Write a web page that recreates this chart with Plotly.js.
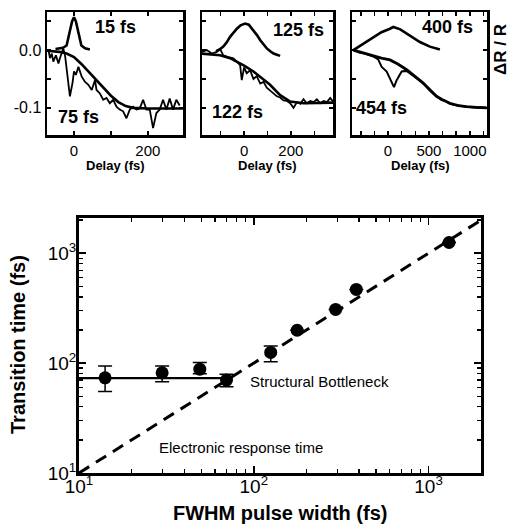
<!DOCTYPE html>
<html>
<head>
<meta charset="utf-8">
<script src="https://cdn.plot.ly/plotly-3.0.1.min.js"></script>
<style>html,body{margin:0;padding:0;background:#fff;}#chart{width:511px;height:525px;}</style>
</head>
<body>
<div id="chart"></div>
<script>
// ---------- Top panel 1 (15 fs pulse, 75 fs transition) ----------
const pulse1Delay = [-50, -40, -30, -20, -15, -10, -5, 0, 5, 10, 15, 20, 30, 43];
const pulse1Signal = [0.002, 0.003, 0.004, 0.008, 0.02, 0.036, 0.05, 0.057, 0.05, 0.034, 0.018, 0.008, 0.003, 0.001];
const data1Delay = [-69, -65, -60, -56, -49, -42, -38, -33, -29, -24, -20, -11, -4, 0, 5, 12, 21, 30, 39, 48, 57, 61, 70, 79, 88, 97, 106, 115, 124, 133, 142, 151, 160, 169, 178, 187, 196, 205, 214, 223, 232, 241, 250, 259, 268, 277, 286];
const data1Signal = [0, -0.014, -0.006, -0.02, -0.009, -0.023, -0.014, -0.003, 0.003, -0.01, -0.034, -0.08, -0.057, -0.037, -0.043, -0.029, -0.046, -0.055, -0.06, -0.069, -0.052, -0.069, -0.075, -0.086, -0.083, -0.092, -0.086, -0.098, -0.103, -0.106, -0.118, -0.103, -0.098, -0.103, -0.101, -0.086, -0.103, -0.103, -0.135, -0.109, -0.103, -0.086, -0.103, -0.084, -0.103, -0.086, -0.096];
const fit1Delay = [-73, -40, -20, 0, 20, 40, 60, 80, 100, 120, 140, 160, 200, 295];
const fit1Signal = [-0.001, -0.003, -0.006, -0.012, -0.024, -0.038, -0.052, -0.066, -0.079, -0.09, -0.097, -0.1, -0.101, -0.101];

// ---------- Top panel 2 (125 fs pulse, 122 fs transition) ----------
const pulse2Delay = [-120, -105, -89, -75, -60, -45, -31, -15, 4, 20, 40, 55, 69, 83, 97, 112, 126, 140, 154];
const pulse2Signal = [-0.002, 0.001, 0.006, 0.013, 0.023, 0.031, 0.037, 0.043, 0.046, 0.044, 0.034, 0.026, 0.017, 0.009, 0.003, -0.002, -0.006, -0.008, -0.01];
const data2Delay = [-181, -160, -138, -117, -103, -89, -67, -46, -31, -17, -10, 0, 11, 26, 40, 54, 69, 83, 97, 111, 126, 140, 154, 168, 183, 197, 211, 226, 240, 254, 268, 283, 297, 311, 325, 340, 354, 368, 382];
const data2Signal = [-0.003, 0, -0.006, -0.003, 0.002, -0.009, -0.012, -0.014, -0.02, -0.026, -0.052, -0.03, -0.04, -0.035, -0.05, -0.045, -0.058, -0.055, -0.065, -0.07, -0.075, -0.08, -0.082, -0.087, -0.088, -0.092, -0.1, -0.09, -0.093, -0.085, -0.092, -0.088, -0.09, -0.085, -0.092, -0.088, -0.09, -0.083, -0.09];
const fit2Delay = [-181, -140, -103, -60, -31, 0, 40, 75, 111, 154, 197, 254, 382];
const fit2Signal = [-0.006, -0.007, -0.009, -0.014, -0.02, -0.027, -0.037, -0.048, -0.06, -0.078, -0.089, -0.092, -0.091];

// ---------- Top panel 3 (400 fs pulse, 454 fs transition) ----------
const pulse3Delay = [-423, -300, -179, -80, 24, 65, 150, 228, 310, 390, 512, 634];
const pulse3Signal = [0, 0.011, 0.023, 0.031, 0.037, 0.04, 0.036, 0.029, 0.021, 0.014, 0.006, 0.001];
const data3Delay = [-423, -350, -280, -179, -120, -77, -16, 45, 73, 106, 167, 228, 300, 360, 431, 500, 593, 650, 700, 756, 820, 890, 959, 1030, 1100, 1150, 1203];
const data3Signal = [0, -0.004, -0.006, -0.011, -0.016, -0.029, -0.037, -0.055, -0.064, -0.052, -0.037, -0.036, -0.043, -0.05, -0.058, -0.066, -0.08, -0.086, -0.088, -0.093, -0.095, -0.097, -0.098, -0.099, -0.1, -0.099, -0.1];
const fit3Delay = [-423, -300, -179, -80, 24, 120, 228, 330, 431, 510, 593, 680, 756, 860, 959, 1080, 1203];
const fit3Signal = [0, -0.005, -0.011, -0.014, -0.017, -0.024, -0.034, -0.045, -0.057, -0.069, -0.08, -0.087, -0.092, -0.096, -0.098, -0.099, -0.1];

// ---------- Bottom panel ----------
const pulseWidth = [14.1, 29.9, 49.1, 69.8, 125, 177, 294, 386, 1310];
const transitionTime = [73.5, 81.6, 88, 70, 125, 199, 308, 468, 1250];
const errPlus = [20.5, 12.4, 13, 9, 18, null, null, null, null];
const errMinus = [18.5, 14, 8, 9, 22, null, null, null, null];
const electronicX = [10, 2000];
const electronicY = [10, 2000];
const bottleneckX = [10, 75];
const bottleneckY = [73, 73];
const logMajorVals = [10, 100, 1000];
const logMajorText = ['10<sup>1</sup>', '10<sup>2</sup>', '10<sup>3</sup>'];
const logMinorVals = [20, 30, 40, 50, 60, 70, 80, 90, 200, 300, 400, 500, 600, 700, 800, 900, 2000];

// ---------- Labels ----------
const pulseLabels = ['15 fs', '125 fs', '400 fs'];
const transLabels = ['75 fs', '122 fs', '454 fs'];

const W = 511, H = 525;
const fx = p => p / W;
const fy = p => 1 - p / H;
const FONT = 'Liberation Sans, Arial, Helvetica, sans-serif';

const blk = 'black';
function line(x, y, xa, ya, w, dash) {
  return {x: x, y: y, xaxis: xa, yaxis: ya, type: 'scatter', mode: 'lines',
          line: {color: blk, width: w, dash: dash || 'solid'}, hoverinfo: 'skip', showlegend: false};
}

const traces = [
  line(data1Delay, data1Signal, 'x', 'y', 1.8),
  line(fit1Delay, fit1Signal, 'x', 'y', 2.6),
  line(pulse1Delay, pulse1Signal, 'x', 'y', 2.6),
  line(data2Delay, data2Signal, 'x2', 'y2', 1.8),
  line(fit2Delay, fit2Signal, 'x2', 'y2', 2.6),
  line(pulse2Delay, pulse2Signal, 'x2', 'y2', 2.6),
  line(data3Delay, data3Signal, 'x3', 'y3', 2),
  line(fit3Delay, fit3Signal, 'x3', 'y3', 2.8),
  line(pulse3Delay, pulse3Signal, 'x3', 'y3', 2.6),
  line(electronicX, electronicY, 'x4', 'y4', 3, '12px,8px'),
  line(bottleneckX, bottleneckY, 'x4', 'y4', 2.2),
  {x: pulseWidth, y: transitionTime, xaxis: 'x4', yaxis: 'y4', type: 'scatter', mode: 'markers',
   marker: {color: blk, size: 13},
   error_y: {type: 'data', symmetric: false, array: errPlus, arrayminus: errMinus,
             color: blk, thickness: 1.5, width: 7},
   hoverinfo: 'skip', showlegend: false}
];

const topY = [fy(135), fy(12)];
function topX(dom, range, tv, tt) {
  return {domain: dom, range: range, tickvals: tv, ticktext: tt, ticks: 'inside', ticklen: 4,
          tickwidth: 1.5, tickcolor: blk, showline: true, linecolor: blk, linewidth: 2.5,
          mirror: 'allticks', showgrid: false, zeroline: false,
          tickfont: {family: FONT, size: 15, color: blk}};
}
function topYAxis(anchor, labels) {
  return {domain: topY, range: [-0.147, 0.066], anchor: anchor,
          tickvals: [-0.1, -0.05, 0, 0.05], ticktext: ['-0.1', '', '0.0', ''],
          showticklabels: labels, ticks: 'inside', ticklen: 4, tickwidth: 1.5, tickcolor: blk,
          showline: true, linecolor: blk, linewidth: 2.5, mirror: 'allticks',
          showgrid: false, zeroline: false, tickfont: {family: FONT, size: 16, color: blk}};
}
function logAxis(dom, anchor, range, standoff) {
  return {domain: dom, anchor: anchor, type: 'log', range: range,
          tickmode: 'array', tickvals: logMajorVals, ticktext: logMajorText,
          ticks: 'inside', ticklen: 7, tickwidth: 1.5, tickcolor: blk, ticklabelstandoff: standoff,
          minor: {tickmode: 'array', tickvals: logMinorVals, ticks: 'inside', ticklen: 4,
                  tickwidth: 1.3, tickcolor: blk, showgrid: false},
          showline: true, linecolor: blk, linewidth: 3, mirror: 'allticks', showgrid: false, zeroline: false,
          tickfont: {family: FONT, size: 19, color: blk}};
}

const t3 = [-333, -167, 0, 167, 333, 500, 667, 833, 1000, 1167];
const layout = {
  width: W, height: H, margin: {l: 0, r: 0, t: 0, b: 0},
  paper_bgcolor: 'white', plot_bgcolor: 'white', showlegend: false,
  font: {family: FONT, color: blk},
  xaxis: Object.assign(topX([fx(47), fx(183)], [-73, 295], [0, 100, 200], ['0', '', '200']), {anchor: 'y'}),
  yaxis: topYAxis('x', true),
  xaxis2: Object.assign(topX([fx(202), fx(333)], [-180, 380], [-100, 0, 100, 200, 300], ['', '0', '', '200', '']), {anchor: 'y2'}),
  yaxis2: topYAxis('x2', false),
  xaxis3: Object.assign(topX([fx(352), fx(487)], [-440, 1210], t3, ['', '', '0', '', '', '500', '', '', '1000', '']), {anchor: 'y3'}),
  yaxis3: topYAxis('x3', false),
  xaxis4: logAxis([fx(79), fx(481)], 'y4', [1, 3.30], -6),
  yaxis4: logAxis([fy(473), fy(218)], 'x4', [1, 3.32], -4),
  annotations: []
};

function ann(text, px, py, size, bold, opts) {
  return Object.assign({text: bold ? '<b>' + text + '</b>' : text, xref: 'paper', yref: 'paper',
    x: fx(px), y: fy(py), xanchor: 'center', yanchor: 'middle', showarrow: false,
    font: {family: FONT, size: size, color: blk}}, opts || {});
}
// panel labels
layout.annotations.push(ann(pulseLabels[0], 115, 27, 18, true));
layout.annotations.push(ann(transLabels[0], 78, 117, 18, true));
layout.annotations.push(ann(pulseLabels[1], 298, 30, 18, true));
layout.annotations.push(ann(transLabels[1], 237, 112, 18, true));
layout.annotations.push(ann(pulseLabels[2], 447, 27, 18, true));
layout.annotations.push(ann(transLabels[2], 381, 108, 18, true));
// delay titles
[115, 267, 420].forEach(c => layout.annotations.push(ann('Delay (fs)', c, 166, 13, true)));
// ΔR/R
layout.annotations.push(ann('ΔR / R', 500, 50, 17, true, {textangle: -90}));
// bottom
layout.annotations.push(ann('Structural Bottleneck', 248, 381, 15, false, {xanchor: 'left'}));
layout.annotations.push(ann('Electronic response time', 157, 447, 15, false, {xanchor: 'left'}));
layout.annotations.push(ann('Transition time (fs)', 18, 345, 20, true, {textangle: -90}));
layout.annotations.push(ann('FWHM pulse width (fs)', 280, 513, 20, true));

Plotly.newPlot('chart', traces, layout, {staticPlot: true, displayModeBar: false});
</script>
</body>
</html>
